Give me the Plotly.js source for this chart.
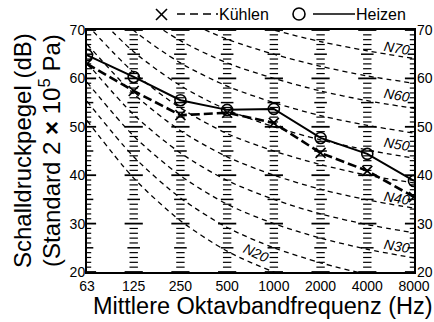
<!DOCTYPE html>
<html>
<head>
<meta charset="utf-8">
<script src="https://cdn.plot.ly/plotly-3.0.1.min.js"></script>
<style>html,body{margin:0;padding:0;background:#fff;}#chart{width:434px;height:322px;}</style>
</head>
<body>
<div id="chart"></div>
<script>
// ---- data ----
const freqLabels = ['63','125','250','500','1000','2000','4000','8000'];
const kuehlen = [63.0, 57.4, 52.4, 52.9, 50.8, 44.6, 40.9, 35.5];
const heizen  = [64.8, 60.3, 55.5, 53.5, 53.7, 47.7, 44.4, 38.8];
// Noise rating curves
const nr20 = [51.3, 39.4, 30.6, 24.3, 20.0, 16.8, 14.4, 12.6];
const nr25 = [55.3, 43.8, 35.3, 29.2, 25.0, 21.9, 19.5, 17.8];
const nr30 = [59.2, 48.1, 39.9, 34.0, 30.0, 27.0, 24.7, 22.9];
const nr35 = [63.2, 52.5, 44.6, 38.9, 35.0, 32.0, 29.8, 28.1];
const nr40 = [67.1, 56.8, 49.2, 43.8, 40.0, 37.1, 34.9, 33.2];
const nr45 = [71.1, 61.2, 53.9, 48.6, 45.0, 42.2, 40.0, 38.4];
const nr50 = [75.0, 65.5, 58.5, 53.5, 50.0, 47.3, 45.2, 43.5];
const nr55 = [79.0, 69.9, 63.2, 58.4, 55.0, 52.3, 50.3, 48.7];
const nr60 = [82.9, 74.2, 67.8, 63.2, 60.0, 57.4, 55.4, 53.8];
const nr65 = [86.9, 78.6, 72.5, 68.1, 65.0, 62.5, 60.5, 59.0];
const nr70 = [90.8, 82.9, 77.1, 73.0, 70.0, 67.6, 65.7, 64.1];
const nrCurves = [nr20, nr25, nr30, nr35, nr40, nr45, nr50, nr55, nr60, nr65, nr70];
const nrLabels = ['N20','N30','N40','N50','N60','N70'];
const nrLabelX = [3.62, 6.64, 6.64, 6.64, 6.64, 6.64];
const nrLabelY = [23.9, 25.4, 35.3, 46.4, 56.6, 66.3];
const yMin = 20, yMax = 70;

const xIdx = freqLabels.map((_, i) => i);
const FONT = 'Liberation Sans, Arial, Helvetica, sans-serif';

// ---- ladder of ticks at every octave column ----
const lad = {minor:{x:[],y:[]}, five:{x:[],y:[]}, ten:{x:[],y:[]}};
for (let i = 0; i < freqLabels.length; i++) {
  for (let v = yMin; v <= yMax; v++) {
    const k = (v % 10 === 0) ? 'ten' : (v % 5 === 0 ? 'five' : 'minor');
    lad[k].x.push(i); lad[k].y.push(v);
  }
}
function ladderTrace(d, size, w) {
  return {x: d.x, y: d.y, type: 'scatter', mode: 'markers', hoverinfo: 'skip', showlegend: false,
    cliponaxis: true,
    marker: {symbol: 'line-ew', size: size, color: '#000', line: {color: '#000', width: w}}};
}

const traces = [
  ladderTrace(lad.minor, 6, 1.2),
  ladderTrace(lad.five, 9, 1.5),
  ladderTrace(lad.ten, 13, 1.8)
];
nrCurves.forEach(c => traces.push({
  x: xIdx, y: c, type: 'scatter', mode: 'lines', hoverinfo: 'skip', showlegend: false,
  line: {color: '#000', width: 1.3, dash: '5px,4px', shape: 'spline', smoothing: 0.8}
}));
traces.push({
  x: xIdx, y: kuehlen, type: 'scatter', mode: 'lines+markers', name: 'Kühlen', showlegend: false,
  line: {color: '#000', width: 2.6, dash: '9px,4px'},
  marker: {symbol: 'x-thin', size: 10, color: '#000', line: {color: '#000', width: 1.6}}
});
traces.push({
  x: xIdx, y: heizen, type: 'scatter', mode: 'lines+markers', name: 'Heizen', showlegend: false,
  line: {color: '#000', width: 2},
  marker: {symbol: 'circle-open', size: 11, color: '#000', line: {color: '#000', width: 1.6}}
});
// invisible trace so the right axis shows its labels
traces.push({x: [0], y: [yMin], yaxis: 'y2', type: 'scatter', mode: 'markers', marker: {opacity: 0}, hoverinfo: 'skip', showlegend: false});

// ---- geometry helpers (pixel -> paper) ----
const L = 87, R = 414, T = 30, B = 272;
const px = v => (v - L) / (R - L);
const py = v => (B - v) / (B - T);

const annotations = [];
nrLabels.forEach((t, i) => annotations.push({
  xref: 'x', yref: 'y', x: nrLabelX[i], y: nrLabelY[i], text: '<i>' + t + '</i>', showarrow: false,
  textangle: i === 0 ? 25 : 10, font: {family: FONT, size: 14, color: '#000'}
}));
// axis titles
annotations.push({xref: 'paper', yref: 'paper', x: px(263), y: py(306), text: 'Mittlere Oktavbandfrequenz (Hz)',
  showarrow: false, xanchor: 'center', yanchor: 'middle', font: {family: FONT, size: 23.5, color: '#000'}});
annotations.push({xref: 'paper', yref: 'paper', x: px(22), y: py(151), text: 'Schalldruckpegel (dB)', textangle: -90,
  showarrow: false, xanchor: 'center', yanchor: 'middle', font: {family: FONT, size: 24, color: '#000'}});
annotations.push({xref: 'paper', yref: 'paper', x: px(50), y: py(151), text: '(Standard 2 <b>×</b> 10<sup>5</sup> Pa)', textangle: -90,
  showarrow: false, xanchor: 'center', yanchor: 'middle', font: {family: FONT, size: 24, color: '#000'}});
// legend texts
annotations.push({xref: 'paper', yref: 'paper', x: px(217), y: py(14), text: 'Kühlen', showarrow: false,
  xanchor: 'left', yanchor: 'middle', font: {family: FONT, size: 16, color: '#000'}});
annotations.push({xref: 'paper', yref: 'paper', x: px(354), y: py(14), text: 'Heizen', showarrow: false,
  xanchor: 'left', yanchor: 'middle', font: {family: FONT, size: 16, color: '#000'}});

const shapes = [
  // legend X marker
  {type: 'line', xref: 'paper', yref: 'paper', x0: px(156), y0: py(9), x1: px(167), y1: py(20), line: {color: '#000', width: 1.6}},
  {type: 'line', xref: 'paper', yref: 'paper', x0: px(156), y0: py(20), x1: px(167), y1: py(9), line: {color: '#000', width: 1.6}},
  {type: 'line', xref: 'paper', yref: 'paper', x0: px(177), y0: py(14), x1: px(218), y1: py(14), line: {color: '#000', width: 1.6, dash: '8px,5px'}},
  // legend circle
  {type: 'circle', xref: 'paper', yref: 'paper', x0: px(293), y0: py(8), x1: px(305), y1: py(20), line: {color: '#000', width: 1.6}},
  {type: 'line', xref: 'paper', yref: 'paper', x0: px(313), y0: py(14), x1: px(355), y1: py(14), line: {color: '#000', width: 1.6}}
];

const layout = {
  width: 434, height: 322,
  margin: {l: L, r: 434 - R, t: T, b: 322 - B, pad: 0},
  paper_bgcolor: '#fff', plot_bgcolor: 'rgba(0,0,0,0)',
  showlegend: false,
  font: {family: FONT, size: 14, color: '#000'},
  xaxis: {range: [0, 7], tickvals: xIdx, ticktext: freqLabels, ticks: '', showgrid: false, zeroline: false,
    showline: true, linecolor: '#000', linewidth: 2, mirror: true, tickfont: {size: 14, family: FONT, color: '#000'}, fixedrange: true},
  yaxis: {range: [yMin, yMax], dtick: 10, ticks: '', showgrid: false, zeroline: false,
    showline: true, linecolor: '#000', linewidth: 2, mirror: true, tickfont: {size: 14, family: FONT, color: '#000'},
    ticklabelstandoff: -3},
  yaxis2: {range: [yMin, yMax], dtick: 10, overlaying: 'y', side: 'right', ticks: '', showgrid: false, zeroline: false,
    showline: false, tickfont: {size: 14, family: FONT, color: '#000'}, ticklabelstandoff: 2},
  annotations: annotations,
  shapes: shapes
};

Plotly.newPlot('chart', traces, layout, {staticPlot: true, displayModeBar: false});
</script>
</body>
</html>
